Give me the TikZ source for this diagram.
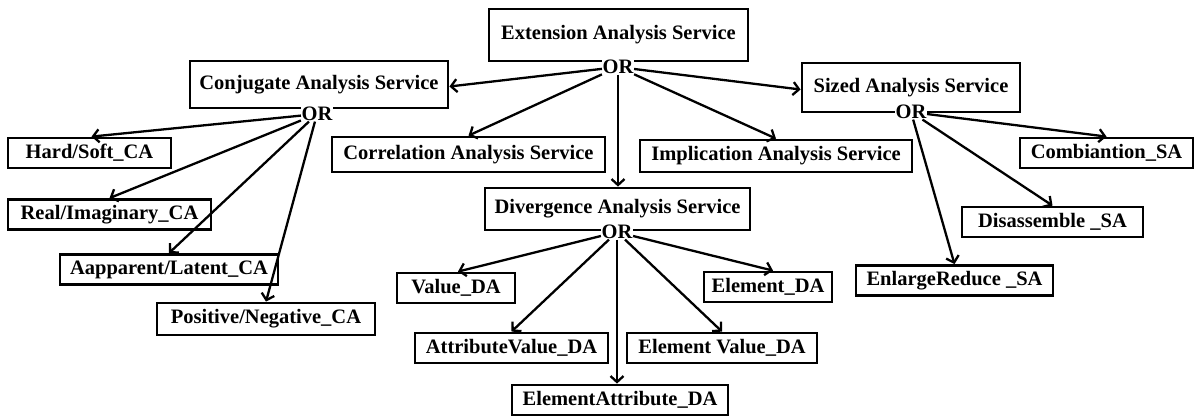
\documentclass[tikz,border=0pt]{standalone}
\usepackage{fontspec}
\setmainfont{Liberation Serif}
\usetikzlibrary{arrows.meta}
\tikzset{
  box/.style={draw, line width=2.8pt, inner sep=1pt, font=\fontsize{20.5}{22}\selectfont\bfseries},
  ortag/.style={fill=white, inner sep=0.5pt, font=\fontsize{20.5}{22}\selectfont\bfseries},
  arr/.style={line width=2.3pt, -{Straight Barb[length=6pt,width=13pt]}}
}
\begin{document}
\begin{tikzpicture}[x=1pt,y=-1pt]
\useasboundingbox (0,0) rectangle (1199,418);
% top level
\node[box, minimum width=259pt, minimum height=52pt] (ext) at (618.5,35) {Extension Analysis Service};
\node[ortag] (orext) at (618,67) {OR};
% second level
\node[box, minimum width=258pt, minimum height=47pt] (conj) at (319,84.5) {Conjugate Analysis Service};
\node[ortag] (orconj) at (317,114) {OR};
\node[box, minimum width=218pt, minimum height=49pt] (sized) at (911,87.5) {Sized Analysis Service};
\node[ortag] (orsized) at (911,112) {OR};
\node[box, minimum width=273pt, minimum height=35pt] (corr) at (468.5,154.5) {Correlation Analysis Service};
\node[box, minimum width=272pt, minimum height=32pt] (impl) at (776,156) {Implication Analysis Service};
\node[box, minimum width=265pt, minimum height=42pt] (div) at (617.5,209) {Divergence Analysis Service};
\node[ortag] (ordiv) at (617,232) {OR};
% conjugate children
\node[box, minimum width=163pt, minimum height=30pt] (hard) at (89.5,153) {Hard/Soft\_CA};
\node[box, minimum width=203pt, minimum height=30pt] (real) at (109.5,214.5) {Real/Imaginary\_CA};
\node[box, minimum width=218pt, minimum height=30pt] (aapp) at (169,269.5) {Aapparent/Latent\_CA};
\node[box, minimum width=218pt, minimum height=32pt] (posi) at (266,319) {Positive/Negative\_CA};
% divergence children
\node[box, minimum width=118pt, minimum height=30pt] (value) at (456,288) {Value\_DA};
\node[box, minimum width=128pt, minimum height=30pt] (elem) at (768,287) {Element\_DA};
\node[box, minimum width=193pt, minimum height=30pt] (attr) at (511.5,348) {AttributeValue\_DA};
\node[box, minimum width=190pt, minimum height=30pt] (elval) at (722,348) {Element Value\_DA};
\node[box, minimum width=216pt, minimum height=30pt] (elattr) at (620,400) {ElementAttribute\_DA};
% sized children
\node[box, minimum width=173pt, minimum height=30pt] (comb) at (1106.5,153) {Combiantion\_SA};
\node[box, minimum width=181pt, minimum height=30pt] (disa) at (1052.5,222) {Disassemble \_SA};
\node[box, minimum width=197pt, minimum height=30pt] (enla) at (954.5,280.5) {EnlargeReduce \_SA};
% connectors
\draw[arr] (orext) -- ([yshift=-2pt]conj.east);
\draw[arr] (orext) -- (corr.north);
\draw[arr] (orext) -- (orext |- div.north);
\draw[arr] (orext) -- (impl.north);
\draw[arr] (orext) -- ([yshift=-2pt]sized.west);
\draw[arr] (orconj) -- ([xshift=2pt]hard.north);
\draw[arr] (orconj) -- (real.north);
\draw[arr] (orconj) -- (aapp.north);
\draw[arr] (orconj) -- (posi.north);
\draw[arr] (orsized) -- (comb.north);
\draw[arr] (orsized) -- (disa.north);
\draw[arr] (orsized) -- (enla.north);
\draw[arr] (ordiv) -- ([xshift=2pt]value.north);
\draw[arr] (ordiv) -- ([xshift=5pt]elem.north);
\draw[arr] (ordiv) -- (attr.north);
\draw[arr] (ordiv) -- (elval.north);
\draw[arr] (ordiv) -- (ordiv |- elattr.north);
\end{tikzpicture}
\end{document}
